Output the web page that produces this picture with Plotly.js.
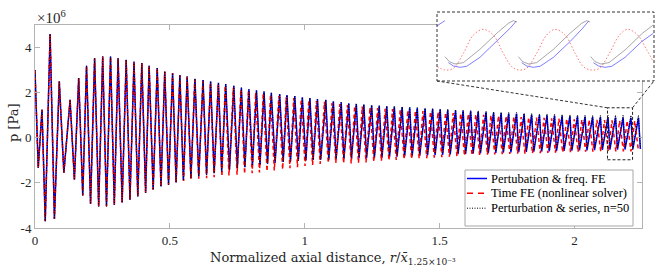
<!DOCTYPE html>
<html>
<head>
<meta charset="utf-8">
<script src="https://cdn.plot.ly/plotly-3.0.1.min.js"></script>
<style>html,body{margin:0;padding:0;background:#fff;}#chart{width:664px;height:270px;}</style>
</head>
<body>
<div id="chart"></div>
<script>
// ---- data (pressure in units of 1e6 Pa) ----
const peakX = [0.000,0.026,0.056,0.090,0.130,0.162,0.191,0.221,0.251,0.280,0.308,0.338,0.367,0.396,0.423,0.453,0.481,0.510,
  0.537,0.564,0.593,0.623,0.651,0.680,0.707,0.737,0.765,0.793,0.821,0.849,0.876,0.907,0.934,0.963,0.991,1.019,1.047,1.078,
  1.106,1.135,1.163,1.191,1.219,1.248,1.276,1.304,1.332,
  1.361,1.389,1.417,1.446,1.474,1.502,1.530,1.559,1.587,1.615,
  1.643,1.672,1.700,1.728,1.756,1.785,1.813,1.841,1.870,1.898,
  1.926,1.954,1.983,2.011,2.039,2.067,2.096,2.124,2.152,2.180,2.209,2.237];
const troughX = [0.012,0.038,0.072,0.107,0.146,0.177,0.206,0.236,0.265,0.294,0.323,0.352,0.381,0.410,0.438,0.467,0.495,0.523,
  0.550,0.578,0.607,0.636,0.664,0.692,0.721,0.750,0.778,0.806,0.834,0.862,0.890,0.920,0.947,0.976,1.004,1.031,1.059,1.089,
  1.116,1.145,1.173,1.201,1.229,1.258,1.286,1.314,1.342,
  1.370,1.398,1.426,1.455,1.483,1.511,1.539,1.568,1.596,1.624,
  1.651,1.680,1.708,1.736,1.764,1.793,1.821,1.849,1.878,1.906,
  1.933,1.961,1.990,2.018,2.046,2.074,2.103,2.131,2.159,2.187,2.216,2.244];
const bluePeak = [3.00,1.24,4.60,2.50,1.68,2.65,3.19,3.53,3.60,3.60,3.53,3.46,3.37,3.31,3.19,3.09,2.94,2.87,
  2.78,2.72,2.62,2.56,2.50,2.44,2.38,2.30,2.22,2.15,2.10,2.05,1.99,1.94,1.89,1.85,1.80,1.76,1.72,1.68,
  1.62,1.57,1.53,1.50,1.47,1.44,1.42,1.40,1.38,
  1.36,1.34,1.32,1.30,1.28,1.26,1.24,1.22,1.20,1.18,
  1.16,1.14,1.12,1.10,1.08,1.07,1.05,1.03,1.01,1.00,
  0.98,0.97,0.96,0.95,0.94,0.93,0.92,0.91,0.90,0.90,0.89,0.89];
const blueTrough = [-1.33,-3.70,-3.60,-1.55,-1.86,-2.56,-2.93,-3.04,-3.04,-2.97,-2.87,-2.75,-2.60,-2.44,-2.30,-2.16,-2.08,-1.98,
  -1.89,-1.79,-1.71,-1.64,-1.57,-1.49,-1.42,-1.34,-1.30,-1.24,-1.20,-1.15,-1.10,-1.07,-1.04,-1.02,-1.00,-0.98,-0.97,-0.96,
  -0.95,-0.94,-0.93,-0.92,-0.91,-0.89,-0.88,-0.86,-0.84,
  -0.83,-0.81,-0.80,-0.78,-0.77,-0.76,-0.74,-0.73,-0.72,-0.70,
  -0.69,-0.68,-0.67,-0.66,-0.65,-0.64,-0.63,-0.62,-0.61,-0.60,
  -0.59,-0.58,-0.57,-0.56,-0.56,-0.55,-0.54,-0.53,-0.52,-0.52,-0.51,-0.50];
const blackPeak = [3.00,1.24,4.60,2.50,1.68,2.65,3.19,3.53,3.60,3.60,3.53,3.46,3.37,3.31,3.19,3.09,2.94,2.87,
  2.78,2.72,2.62,2.56,2.50,2.44,2.38,2.30,2.22,2.15,2.10,2.05,1.99,1.94,1.89,1.85,1.80,1.76,1.72,1.68,
  1.62,1.57,1.53,1.50,1.48,1.45,1.43,1.41,1.39,
  1.37,1.36,1.34,1.32,1.30,1.28,1.27,1.25,1.23,1.21,
  1.20,1.18,1.16,1.14,1.13,1.12,1.10,1.08,1.07,1.06,
  1.05,1.04,1.03,1.02,1.01,1.00,1.00,1.00,1.01,1.01,1.00,1.00];
const blackTrough = [-1.33,-3.70,-3.60,-1.55,-1.86,-2.56,-2.93,-3.04,-3.04,-2.97,-2.87,-2.75,-2.60,-2.44,-2.30,-2.16,-2.08,-1.98,
  -1.89,-1.79,-1.71,-1.64,-1.57,-1.49,-1.42,-1.34,-1.30,-1.24,-1.20,-1.15,-1.10,-1.07,-1.04,-1.02,-1.00,-0.98,-0.97,-0.96,
  -0.92,-0.91,-0.89,-0.87,-0.85,-0.84,-0.82,-0.80,-0.78,
  -0.77,-0.75,-0.74,-0.72,-0.71,-0.70,-0.68,-0.67,-0.66,-0.65,
  -0.64,-0.62,-0.61,-0.60,-0.59,-0.58,-0.57,-0.56,-0.55,-0.54,
  -0.53,-0.52,-0.51,-0.50,-0.49,-0.48,-0.47,-0.46,-0.45,-0.44,-0.44,-0.43];
const redPeakX = [0.000,0.026,0.056,0.090,0.130,0.162,0.191,0.221,0.251,0.280,0.308,0.338,0.367,0.396,0.423,0.453,0.481,0.510,
  0.537,0.564,0.592,0.622,0.650,0.679,0.705,0.735,0.763,0.791,0.818,0.846,0.873,0.904,0.931,0.959,0.987,1.015,1.043,1.073,
  1.101,1.130,1.158,1.185,1.213,1.242,1.270,1.298,1.325,
  1.354,1.382,1.410,1.438,1.466,1.494,1.522,1.550,1.578,1.606,
  1.634,1.663,1.690,1.718,1.746,1.775,1.802,1.830,1.859,1.887,
  1.915,1.942,1.971,1.999,2.027,2.054,2.083,2.111,2.139,2.167,2.195,2.223];
const redTroughX = [0.012,0.038,0.072,0.107,0.146,0.177,0.206,0.236,0.265,0.294,0.323,0.352,0.381,0.410,0.438,0.467,0.495,0.523,
  0.551,0.578,0.607,0.636,0.664,0.693,0.719,0.749,0.777,0.805,0.832,0.860,0.887,0.918,0.945,0.973,1.001,1.029,1.057,1.087,
  1.115,1.144,1.172,1.199,1.227,1.256,1.284,1.312,1.339,
  1.368,1.396,1.424,1.452,1.480,1.508,1.536,1.564,1.592,1.620,
  1.648,1.677,1.704,1.732,1.760,1.789,1.816,1.844,1.873,1.901,
  1.929,1.956,1.985,2.013,2.041,2.068,2.097,2.125,2.153,2.181,2.209,2.237];
const redPeak = [3.00,1.24,4.60,2.50,1.68,2.65,3.19,3.53,3.60,3.60,3.53,3.46,3.37,3.31,3.19,3.09,2.94,2.87,
  2.76,2.69,2.58,2.51,2.44,2.37,2.30,2.22,2.14,2.07,2.01,1.96,1.90,1.85,1.80,1.76,1.71,1.67,1.63,1.59,
  1.54,1.49,1.45,1.41,1.38,1.35,1.32,1.29,1.27,
  1.25,1.22,1.20,1.18,1.16,1.14,1.12,1.10,1.08,1.06,
  1.04,1.02,1.00,0.98,0.96,0.94,0.92,0.91,0.89,0.88,
  0.86,0.85,0.84,0.82,0.81,0.80,0.79,0.78,0.77,0.76,0.76,0.75];
const redTrough = [-1.33,-3.70,-3.60,-1.55,-1.86,-2.56,-2.93,-3.04,-3.04,-2.97,-2.87,-2.75,-2.60,-2.44,-2.30,-2.16,-2.08,-1.99,
  -1.92,-1.86,-1.82,-1.79,-1.75,-1.71,-1.67,-1.64,-1.60,-1.57,-1.54,-1.49,-1.45,-1.40,-1.35,-1.30,-1.25,-1.20,-1.16,-1.12,
  -1.12,-1.13,-1.14,-1.12,-1.09,-1.06,-1.03,-1.00,-0.98,
  -0.96,-0.94,-0.92,-0.90,-0.88,-0.86,-0.84,-0.82,-0.80,-0.78,
  -0.76,-0.75,-0.74,-0.73,-0.72,-0.71,-0.70,-0.69,-0.68,-0.67,
  -0.66,-0.65,-0.64,-0.63,-0.62,-0.62,-0.61,-0.61,-0.60,-0.60,-0.60,-0.60];

// inset (magnified window) curves
const insetBlueX = [2.1219,2.1254,null,2.1269,2.1290,2.1319,2.1347,2.1404,2.1476,2.1533,2.1559,null,
  2.1583,2.1604,2.1633,2.1662,2.1719,2.1790,2.1844,2.1869,null,2.1890,2.1912,2.1940,2.1969,2.2026,2.2097,2.2147];
const insetBlueY = [0.862,1.041,null,-0.362,-0.473,-0.518,-0.484,-0.184,0.339,0.785,1.018,null,
  -0.362,-0.473,-0.518,-0.484,-0.184,0.339,0.785,1.018,null,-0.362,-0.473,-0.518,-0.484,-0.184,0.339,0.618];
const insetBlackX = [2.1254,2.1273,2.1297,2.1333,2.1404,2.1476,2.1526,2.1547,2.1562,null,
  2.1569,2.1587,2.1612,2.1647,2.1719,2.1790,2.1840,2.1862,2.1876,null,2.1879,2.1897,2.1922,2.1957,2.2029,2.2100,2.2147];
const insetBlackY = [-0.161,-0.328,-0.406,-0.362,0.083,0.618,0.952,1.041,0.996,null,
  -0.161,-0.328,-0.406,-0.362,0.083,0.618,0.952,1.041,0.996,null,-0.161,-0.328,-0.406,-0.362,0.083,0.618,0.896];
const insetRedX = [2.1221,2.1254,2.1290,2.1333,2.1376,2.1419,2.1461,2.1504,2.1540,2.1569,2.1604,2.1647,2.1690,2.1726,
  2.1769,2.1812,2.1847,2.1880,2.1916,2.1959,2.2002,2.2037,2.2080,2.2119,2.2147];
const insetRedY = [-0.495,-0.607,-0.551,-0.050,0.562,0.751,0.562,-0.050,-0.495,-0.607,-0.551,-0.050,0.562,0.751,
  0.562,-0.050,-0.495,-0.607,-0.551,-0.050,0.562,0.751,0.562,0.061,-0.328];

const zoomWin = {x0: 2.122, x1: 2.215, y0: -0.975, y1: 1.33};
const xTicks = [0, 0.5, 1, 1.5, 2];
const xTickText = ['0', '0.5', '1', '1.5', '2'];
const yTicks = [-4, -2, 0, 2, 4];
const yTickText = ['-4', '-2', '0', '2', '4'];
const seriesNames = ['Pertubation &amp; freq. FE', 'Time FE (nonlinear solver)', 'Perturbation &amp; series, n=50'];

// ---- build ----
const SCALE = 1e6;
function interleave(px, py, tx, ty) {
  const X = [], Y = [];
  for (let i = 0; i < px.length; i++) {
    X.push(px[i]); Y.push(py[i] * SCALE);
    X.push(tx[i]); Y.push(ty[i] * SCALE);
  }
  return {X, Y};
}
const sc = v => v === null ? null : v * SCALE;
const blue = interleave(peakX, bluePeak, troughX, blueTrough);
const black = interleave(peakX, blackPeak, troughX, blackTrough);
const red = interleave(redPeakX, redPeak, redTroughX, redTrough);

const FONT = 'Liberation Serif, DejaVu Serif, serif';
const FONT2 = 'DejaVu Serif, Liberation Serif, serif';
const TXT = '#262626';
const AX = '#b3b3b3';
const styles = [
  {color: '#0000ff', width: 1.5},
  {color: '#ff0000', width: 1.5, dash: '4px,3px'},
  {color: '#000000', width: 1, dash: '1px,1.5px'}
];

const traces = [
  {x: blue.X, y: blue.Y, type: 'scatter', mode: 'lines', name: 'blue', line: styles[0], xaxis: 'x', yaxis: 'y'},
  {x: red.X, y: red.Y, type: 'scatter', mode: 'lines', name: 'red', line: styles[1], xaxis: 'x', yaxis: 'y'},
  {x: black.X, y: black.Y, type: 'scatter', mode: 'lines', name: 'black', line: styles[2], xaxis: 'x', yaxis: 'y'},
  {x: insetBlueX, y: insetBlueY.map(sc), type: 'scatter', mode: 'lines',
   line: {color: 'rgba(40,40,255,0.6)', width: 1}, xaxis: 'x2', yaxis: 'y2'},
  {x: insetRedX, y: insetRedY.map(sc), type: 'scatter', mode: 'lines',
   line: {color: 'rgba(255,60,60,0.7)', width: 1, dash: '1.5px,2px', shape: 'spline'}, xaxis: 'x2', yaxis: 'y2'},
  {x: insetBlackX, y: insetBlackY.map(sc), type: 'scatter', mode: 'lines',
   line: {color: 'rgba(0,0,0,0.35)', width: 1}, xaxis: 'x2', yaxis: 'y2'}
];

// geometry (pixels of the 664x270 page)
const L = 35, R = 10, T = 12, B = 42;
const W = 664 - L - R, H = 270 - T - B;        // paper area 619 x 216
const mainRight = 642, mainTop = 25;
const insetL = 437, insetB = 81;
const px2x = p => (p - L) / W;
const py2y = p => (270 - B - p) / H;
const xDom = [0, px2x(mainRight)];
const yDom = [0, py2y(mainTop)];
const xRange = [0, 2.25], yRange = [-4 * SCALE, 5 * SCALE];
const ix = [px2x(insetL), 1];
const iy = [py2y(insetB), 1];

function dataToPaperX(v) { return xDom[0] + (v - xRange[0]) / (xRange[1] - xRange[0]) * (xDom[1] - xDom[0]); }
function dataToPaperY(v) { return yDom[0] + (v - yRange[0]) / (yRange[1] - yRange[0]) * (yDom[1] - yDom[0]); }

const axisCommon = {
  showline: true, linecolor: AX, linewidth: 1, mirror: 'allticks',
  ticks: 'inside', ticklen: 5, tickcolor: AX, tickwidth: 1,
  showgrid: false, zeroline: false,
  tickfont: {family: FONT, size: 13, color: TXT}
};

const dashed = {color: '#333', width: 1, dash: '3px,2px'};
const shapes = [
  {type: 'rect', xref: 'x', yref: 'y', x0: zoomWin.x0, x1: zoomWin.x1, y0: zoomWin.y0 * SCALE, y1: zoomWin.y1 * SCALE,
   line: {color: '#222', width: 1, dash: '3px,2px'}},
  {type: 'rect', xref: 'paper', yref: 'paper', x0: ix[0], x1: ix[1], y0: iy[0], y1: iy[1], line: dashed},
  {type: 'line', xref: 'paper', yref: 'paper', x0: dataToPaperX(zoomWin.x0), y0: dataToPaperY(zoomWin.y1 * SCALE), x1: ix[0], y1: iy[0], line: dashed},
  {type: 'line', xref: 'paper', yref: 'paper', x0: dataToPaperX(zoomWin.x1), y0: dataToPaperY(zoomWin.y1 * SCALE), x1: ix[1], y1: iy[0], line: dashed},
  // legend box
  {type: 'rect', xref: 'paper', yref: 'paper', x0: px2x(465), x1: px2x(633), y0: py2y(226), y1: py2y(170),
   fillcolor: '#ffffff', line: {color: '#a6a6a6', width: 1}}
];
const annotations = [
  {xref: 'paper', yref: 'paper', x: 0, y: py2y(17), xanchor: 'left', yanchor: 'middle',
   text: '×10<sup>6</sup>', showarrow: false, font: {family: FONT, size: 15, color: TXT}},
  {xref: 'paper', yref: 'paper', x: px2x(14), y: py2y(123), xanchor: 'center', yanchor: 'middle',
   text: 'p [Pa]', textangle: -90, showarrow: false, font: {family: FONT2, size: 13, color: TXT}},
  {xref: 'paper', yref: 'paper', x: px2x(333), y: py2y(258), xanchor: 'center', yanchor: 'middle',
   text: 'Normalized axial distance, <i>r</i>/<i>x̄</i><sub>1.25×10⁻³</sub>', showarrow: false,
   font: {family: FONT2, size: 13, color: TXT}}
];
const rows = [178.5, 193.3, 208.2];
rows.forEach((py, i) => {
  shapes.push({type: 'line', xref: 'paper', yref: 'paper', x0: px2x(467), x1: px2x(487), y0: py2y(py), y1: py2y(py),
    line: i === 1 ? {color: '#ff0000', width: 1.5, dash: '6px,5px'} : styles[i]});
  annotations.push({xref: 'paper', yref: 'paper', x: px2x(489), y: py2y(py), xanchor: 'left', yanchor: 'middle',
    text: seriesNames[i], showarrow: false, font: {family: FONT, size: 12.5, color: '#000'}});
});

const layout = {
  width: 664, height: 270,
  margin: {l: L, r: R, t: T, b: B, pad: 0},
  paper_bgcolor: '#ffffff', plot_bgcolor: '#ffffff',
  showlegend: false,
  xaxis: Object.assign({}, axisCommon, {domain: xDom, range: xRange, tickvals: xTicks, ticktext: xTickText, anchor: 'y'}),
  yaxis: Object.assign({}, axisCommon, {domain: yDom, range: yRange, tickvals: yTicks.map(v => v * SCALE), ticktext: yTickText, anchor: 'x'}),
  xaxis2: {domain: ix, range: [zoomWin.x0, zoomWin.x1], anchor: 'y2', showline: false, showticklabels: false, ticks: '', showgrid: false, zeroline: false},
  yaxis2: {domain: iy, range: [zoomWin.y0 * SCALE, zoomWin.y1 * SCALE], anchor: 'x2', showline: false, showticklabels: false, ticks: '', showgrid: false, zeroline: false},
  annotations: annotations,
  shapes: shapes
};

Plotly.newPlot('chart', traces, layout, {staticPlot: true, displayModeBar: false});
</script>
</body>
</html>
